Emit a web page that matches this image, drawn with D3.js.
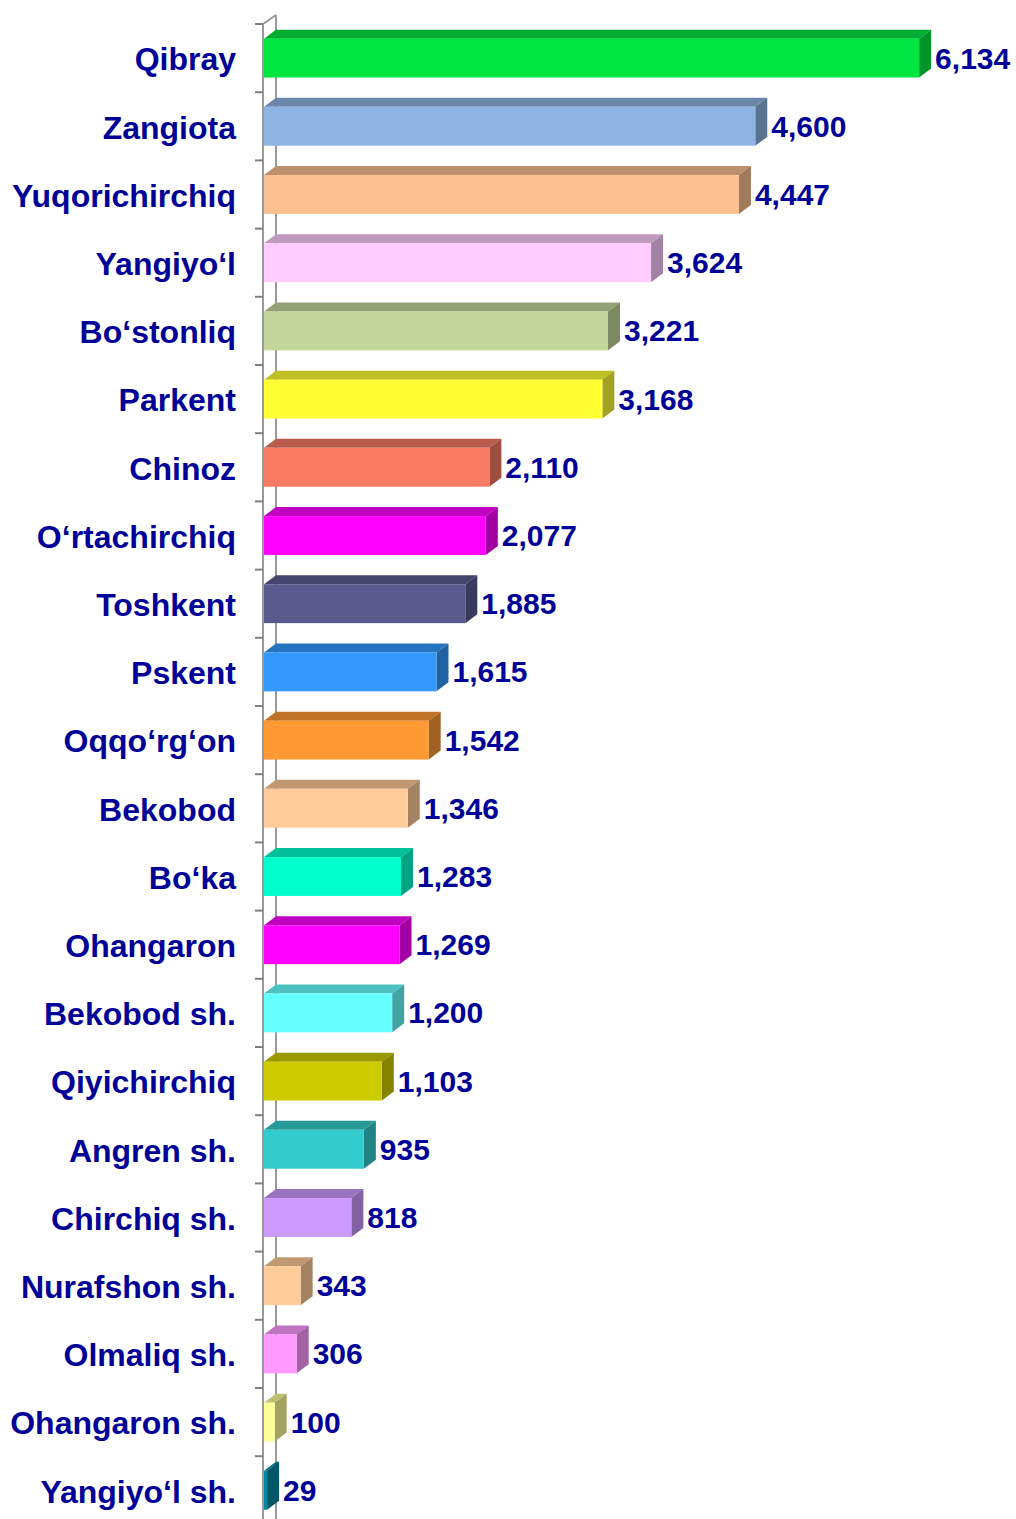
<!DOCTYPE html>
<html>
<head>
<meta charset="utf-8">
<script src="https://cdn.jsdelivr.net/npm/d3@7"></script>
<style>
  body { margin: 0; background: #fff; }
  svg { display: block; font-family: "Liberation Sans", Arial, sans-serif; }
</style>
</head>
<body>
<div id="chart"></div>
<script>
// districts, top to bottom
const districts = ["Qibray", "Zangiota", "Yuqorichirchiq", "Yangiyo‘l", "Bo‘stonliq", "Parkent",
    "Chinoz", "O‘rtachirchiq", "Toshkent", "Pskent", "Oqqo‘rg‘on", "Bekobod", "Bo‘ka",
    "Ohangaron", "Bekobod sh.", "Qiyichirchiq", "Angren sh.", "Chirchiq sh.",
    "Nurafshon sh.", "Olmaliq sh.", "Ohangaron sh.", "Yangiyo‘l sh."]
const counts = [6134, 4600, 4447, 3624, 3221, 3168, 2110, 2077, 1885, 1615, 1542, 1346,
    1283, 1269, 1200, 1103, 935, 818, 343, 306, 100, 29]
const barColors = ["#00e640", "#8db4e2", "#fac090", "#ffccff", "#c3d69b", "#ffff33",
    "#f87b64", "#ff00ff", "#5a5a8f", "#3399ff", "#ff9933", "#ffcc99", "#00ffcc",
    "#ff00ff", "#66ffff", "#cccc00", "#33cccc", "#cc99ff", "#ffcc99", "#ff99ff",
    "#ffff99", "#0088a3"]

const width = 1016, height = 1519
const x0 = 264, plotTop = 24
const depthX = 12, depthY = 9
const textColor = "#000099"

const svg = d3.select("#chart").append("svg")
    .attr("width", width)
    .attr("height", height)

const xScale = d3.scaleLinear()
    .domain([0, 7000])
    .range([x0, x0 + 0.1068 * 7000])

const yScale = d3.scaleBand()
    .domain(districts)
    .range([plotTop, plotTop + 22 * 68.2])
    .paddingInner(0.43)
    .paddingOuter(0.215)

const step = yScale.step()

// axis walls
const axisG = svg.append("g").attr("stroke", "#999").attr("stroke-width", 2).attr("fill", "none")
axisG.append("line").attr("x1", x0 - 1).attr("x2", x0 - 1).attr("y1", plotTop).attr("y2", height)
axisG.append("line").attr("x1", x0 + depthX).attr("x2", x0 + depthX)
    .attr("y1", plotTop - depthY).attr("y2", height)
axisG.append("line").attr("x1", x0 - 1).attr("y1", plotTop)
    .attr("x2", x0 + depthX).attr("y2", plotTop - depthY)
axisG.selectAll(".tick")
    .data(d3.range(districts.length + 1))
    .enter()
    .append("line")
    .attr("stroke", "#808080")
    .attr("x1", x0 - 9).attr("x2", x0 - 1)
    .attr("y1", (d) => plotTop + d * step)
    .attr("y2", (d) => plotTop + d * step)

// 3d bars
const bars = svg.selectAll(".bar")
    .data(districts)
    .enter()
    .append("g")
    .attr("class", "bar")

bars.append("polygon")
    .attr("fill", (d, i) => d3.color(barColors[i]).darker(0.8))
    .attr("points", (d, i) => {
        const y = yScale(d), xe = xScale(counts[i])
        return [[x0, y], [x0 + depthX, y - depthY], [xe + depthX, y - depthY], [xe, y]].join(" ")
    })

bars.append("polygon")
    .attr("fill", (d, i) => d3.color(barColors[i]).darker(1.25))
    .attr("points", (d, i) => {
        const y = yScale(d), xe = xScale(counts[i]), h = yScale.bandwidth()
        return [[xe, y], [xe + depthX, y - depthY], [xe + depthX, y + h - depthY], [xe, y + h]].join(" ")
    })

bars.append("rect")
    .attr("x", x0)
    .attr("y", (d) => yScale(d))
    .attr("width", (d, i) => xScale(counts[i]) - x0)
    .attr("height", yScale.bandwidth())
    .attr("fill", (d, i) => barColors[i])

// category labels
svg.selectAll(".cat")
    .data(districts)
    .enter()
    .append("text")
    .attr("class", "cat")
    .attr("x", 236)
    .attr("y", (d) => yScale(d) + yScale.bandwidth() / 2 + 1)
    .attr("dy", "0.35em")
    .attr("text-anchor", "end")
    .attr("font-size", 32)
    .attr("font-weight", "bold")
    .attr("fill", textColor)
    .text((d) => d)

// value labels
svg.selectAll(".val")
    .data(districts)
    .enter()
    .append("text")
    .attr("class", "val")
    .attr("x", (d, i) => xScale(counts[i]) + depthX + 4)
    .attr("y", (d) => yScale(d) + yScale.bandwidth() / 2)
    .attr("dy", "0.35em")
    .attr("font-size", 30)
    .attr("font-weight", "bold")
    .attr("fill", textColor)
    .text((d, i) => d3.format(",")(counts[i]))
</script>
</body>
</html>
